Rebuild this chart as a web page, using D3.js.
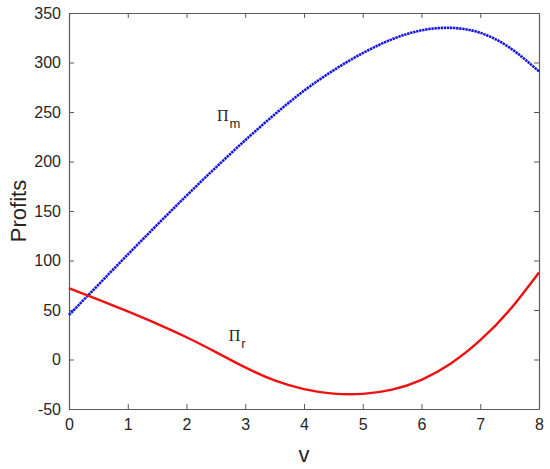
<!DOCTYPE html>
<html>
<head>
<meta charset="utf-8">
<script src="https://cdn.jsdelivr.net/npm/d3@7"></script>
<style>
  html, body { margin: 0; padding: 0; background: #fff; }
  svg { display: block; }
</style>
</head>
<body>
<svg id="chart" width="550" height="469"></svg>
<script>
// ---- data ----
const vValues = [0, 0.5, 1, 1.5, 2, 2.5, 3, 3.5, 4, 4.5, 5, 5.5, 6, 6.5, 7, 7.5, 8];
const profitM = [45, 75.5, 106, 136, 165.5, 194, 221.5, 247.5, 271.5, 292, 309.5, 323.5, 332.5, 335, 330, 315, 291];
const profitR = [72, 60.5, 48.5, 36, 22.5, 7.5, -8, -21.2, -30, -34.5, -34.7, -30.5, -20.5, -4, 19.5, 50, 88];
const xTicks = [0, 1, 2, 3, 4, 5, 6, 7, 8];
const yTicks = [-50, 0, 50, 100, 150, 200, 250, 300, 350];
const seriesNames = ["m", "r"];

const svg = d3.select("#chart");
const margin = { left: 69, right: 11, top: 13, bottom: 60 };
const W = 550, H = 469;
const x = d3.scaleLinear().domain([0, 8]).range([margin.left, W - margin.right]);
const y = d3.scaleLinear().domain([-50, 350]).range([H - margin.bottom, margin.top]);

const axisColor = "#5a5a5a";
const textColor = "#262626";
const font = "'Liberation Sans', Arial, Helvetica, sans-serif";
const fmt = d => String(d);

// axes
const gx = svg.append("g").attr("transform", `translate(0,${y(-50)})`)
  .call(d3.axisBottom(x).tickValues(xTicks).tickFormat(fmt).tickSizeInner(-5).tickSizeOuter(0).tickPadding(10));
const gy = svg.append("g").attr("transform", `translate(${x(0)},0)`)
  .call(d3.axisLeft(y).tickValues(yTicks).tickFormat(fmt).tickSizeInner(-5).tickSizeOuter(0).tickPadding(8));
const gxt = svg.append("g").attr("transform", `translate(0,${y(350)})`)
  .call(d3.axisTop(x).tickValues(xTicks).tickSizeInner(-5).tickSizeOuter(0).tickFormat(""));
const gyr = svg.append("g").attr("transform", `translate(${x(8)},0)`)
  .call(d3.axisRight(y).tickValues(yTicks).tickSizeInner(-5).tickSizeOuter(0).tickFormat(""));

[gx, gy, gxt, gyr].forEach(g => {
  g.selectAll("path.domain").attr("stroke", axisColor).attr("stroke-width", 1.2);
  g.selectAll(".tick line").attr("stroke", axisColor).attr("stroke-width", 1);
  g.selectAll(".tick text").attr("fill", textColor).style("font-family", font).style("font-size", "16px");
});

// lines
const line = d3.line().x((d, i) => x(vValues[i])).y(d => y(d)).curve(d3.curveNatural);
svg.append("path").datum(profitM).attr("d", line)
  .attr("fill", "none").attr("stroke", "#1414e0").attr("stroke-width", 2.6)
  .attr("stroke-dasharray", "2.4,0.7");
svg.append("path").datum(profitR).attr("d", line)
  .attr("fill", "none").attr("stroke", "#ee1111").attr("stroke-width", 2.4);

// series labels
const labelPos = [{ v: 2.52, val: 241 }, { v: 2.72, val: 19 }];
seriesNames.forEach((s, i) => {
  const t = svg.append("text")
    .attr("x", x(labelPos[i].v)).attr("y", y(labelPos[i].val))
    .attr("fill", textColor);
  t.append("tspan").text("Π").style("font-family", "'Liberation Serif', 'Times New Roman', serif").style("font-size", "16px");
  t.append("tspan").text(s).attr("dy", 7).attr("dx", 1).style("font-family", font).style("font-size", "13px");
});

// axis titles
svg.append("text").attr("x", x(4)).attr("y", 462).attr("text-anchor", "middle")
  .attr("fill", textColor).style("font-family", font).style("font-size", "22px").text("v");
svg.append("text").attr("transform", `translate(26,${y(150)}) rotate(-90)`).attr("text-anchor", "middle")
  .attr("fill", textColor).style("font-family", font).style("font-size", "22px").text("Profits");
</script>
</body>
</html>
